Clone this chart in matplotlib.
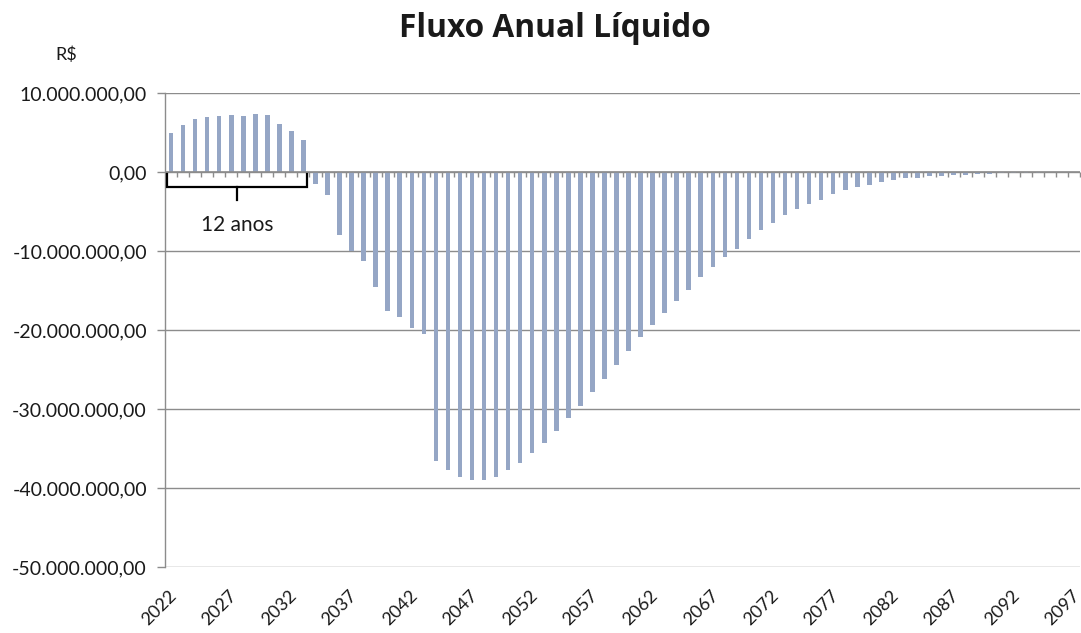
import numpy as np
import matplotlib
matplotlib.use('Agg')
import matplotlib.pyplot as plt
from matplotlib.ticker import FuncFormatter
import matplotlib.transforms as mtransforms

plt.rcParams['font.family'] = ['Lato', 'DejaVu Sans']

# =========================
# Dados: fluxo anual liquido (R$ milhoes)
# =========================
anos = list(range(2022, 2098))
fluxo_milhoes = [
    5.0, 5.9, 6.7, 6.9, 7.1, 7.25, 7.05, 7.3, 7.25, 6.05, 5.15, 4.0,        # 2022-2033
    -1.5, -2.9, -8.0, -10.0, -11.3, -14.6, -17.6, -18.4, -19.7, -20.5,      # 2034-2043
    -36.6, -37.7, -38.6, -39.0, -39.0, -38.6, -37.7, -36.8, -35.6, -34.3,   # 2044-2053
    -32.8, -31.1, -29.6, -27.9, -26.2, -24.4, -22.7, -20.9, -19.4, -17.8,   # 2054-2063
    -16.3, -14.9, -13.3, -12.0, -10.8, -9.7, -8.5, -7.4, -6.4, -5.5,        # 2064-2073
    -4.7, -4.0, -3.5, -2.8, -2.25, -1.95, -1.6, -1.3, -1.0, -0.8,           # 2074-2083
    -0.7, -0.55, -0.47, -0.43, -0.35, -0.25, -0.2, -0.15, -0.12, -0.1,      # 2084-2093
    -0.08, -0.06, -0.05, -0.04,                                             # 2094-2097
]
anos_positivos = 12
rotulo_chave = '12 anos'

fluxo = np.array(fluxo_milhoes) * 1e6
x = np.arange(len(anos))

cor_barra = '#95A6C5'
cor_grade = '#8C8C8C'
cor_texto = '#1a1a1a'

fig = plt.figure(figsize=(10.81, 6.33), dpi=100)
ax = fig.add_axes([165 / 1081, 66 / 633, 915 / 1081, 474 / 633])

ax.bar(x, fluxo, width=0.38, color=cor_barra, zorder=3)

ax.set_xlim(-0.5, len(anos) - 0.5)
ax.set_ylim(-50e6, 10e6)
ax.set_yticks(np.arange(-50e6, 10e6 + 1, 10e6))


def fmt_real(v, pos):
    s = f'{v:,.2f}'
    return s.replace(',', 'X').replace('.', ',').replace('X', '.')


ax.yaxis.set_major_formatter(FuncFormatter(fmt_real))
ax.grid(axis='y', color=cor_grade, linewidth=1.0, zorder=0)
ax.axhline(0, color=cor_grade, linewidth=1.2, zorder=4)

# marcas do eixo de categorias sobre a linha do zero
limites = np.arange(len(anos) + 1) - 0.5
ax.plot(limites, np.zeros_like(limites), linestyle='none', marker=3,
        markersize=3.5, markeredgewidth=1.0, color=cor_grade, zorder=4)

for lado in ['top', 'right', 'bottom']:
    ax.spines[lado].set_visible(False)
ax.spines['left'].set_color(cor_grade)
ax.spines['left'].set_linewidth(1.0)

ax.tick_params(axis='y', length=6, color=cor_grade, width=1.0, pad=7,
               labelsize=14, labelcolor=cor_texto)
ax.set_xticks(x[::5])
ax.set_xticklabels([str(a) for a in anos[::5]], rotation=45, ha='right',
                   va='center', rotation_mode='anchor', fontsize=13,
                   color=cor_texto)
ax.tick_params(axis='x', length=0, pad=19)
desloc = mtransforms.ScaledTranslation(3 / 100, 0, fig.dpi_scale_trans)
for lbl in ax.get_xticklabels():
    lbl.set_transform(lbl.get_transform() + desloc)

# chave indicando o periodo de fluxo positivo
esq = -0.36
dir_ = anos_positivos - 1 + 0.32
meio = (esq + dir_) / 2
ax.plot([esq, esq, dir_, dir_], [-0.2e6, -1.95e6, -1.95e6, -0.2e6],
        color='black', linewidth=1.6, zorder=5, solid_joinstyle='miter')
ax.plot([meio, meio], [-1.95e6, -3.6e6], color='black', linewidth=1.6, zorder=5)
ax.text(meio, -6.7e6, rotulo_chave, ha='center', va='center', fontsize=15,
        color=cor_texto)

fig.text(0.5135, 1 - 37 / 633, 'Fluxo Anual Líquido', ha='center',
         va='baseline', fontsize=22.8, fontweight='bold', color=cor_texto,
         family=['Open Sans', 'DejaVu Sans'])
fig.text(66 / 1081, 1 - 55 / 633, 'R$', ha='center', va='center',
         fontsize=13, color=cor_texto)

fig.savefig('out.png', dpi=100)
